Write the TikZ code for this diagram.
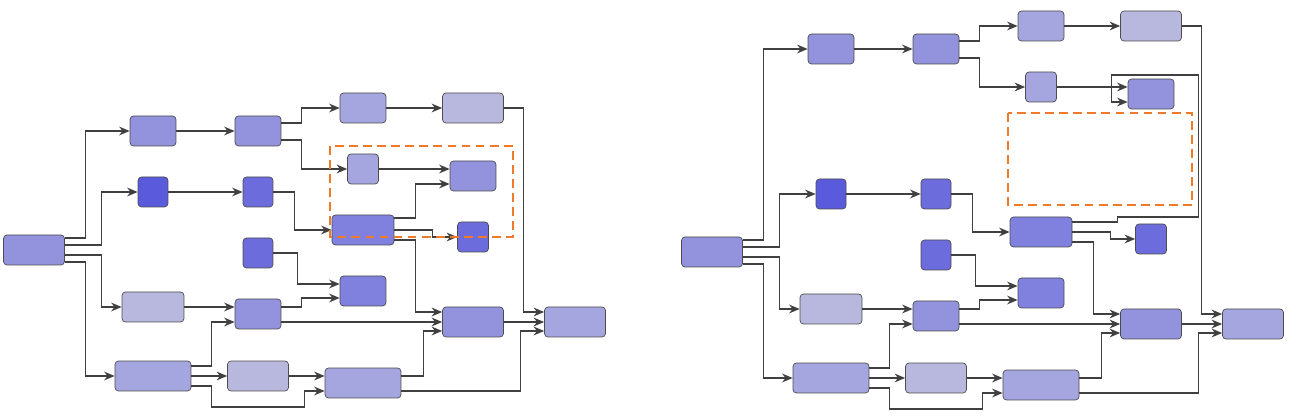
\documentclass[tikz,border=0pt]{standalone}
\usetikzlibrary{arrows.meta,calc}

\definecolor{boxA}{HTML}{9393DD}
\definecolor{boxB}{HTML}{A5A5DF}
\definecolor{boxC}{HTML}{B8B8DE}
\definecolor{boxD}{HTML}{5A5ADD}
\definecolor{boxE}{HTML}{6C6CDD}
\definecolor{boxF}{HTML}{8080DF}
\definecolor{frameorange}{HTML}{F07A2A}

\tikzset{
  box/.style={draw=black!70, rounded corners=2pt, minimum height=0.6cm, inner sep=0pt},
  link/.style={draw=black!75, line width=0.7pt, -{Stealth[length=6pt,width=5pt]}},
  frame/.style={draw=frameorange, line width=1.2pt, dash pattern=on 5pt off 3pt}
}

% one flow graph; #1 = y of the upper row
\newcommand\flowgraph[1]{
\node[box, fill=boxA, minimum width=1.22cm] (A)  at (34,250) {};
\node[box, fill=boxA, minimum width=0.92cm] (B1) at (153,#1) {};
\node[box, fill=boxA, minimum width=0.92cm] (B2) at (258,#1) {};
\node[box, fill=boxB, minimum width=0.92cm] (B3) at (363,#1-23) {};
\node[box, fill=boxC, minimum width=1.22cm] (B4) at (473,#1-23) {};
\node[box, fill=boxB, minimum width=0.62cm] (C1) at (363,#1+38) {};
\node[box, fill=boxA, minimum width=0.92cm] (C2) at (473,#1+45) {};
\node[box, fill=boxD, minimum width=0.6cm]  (D1) at (153,192) {};
\node[box, fill=boxE, minimum width=0.6cm]  (D2) at (258,192) {};
\node[box, fill=boxF, minimum width=1.24cm] (D3) at (363,230) {};
\node[box, fill=boxE, minimum width=0.62cm] (D4) at (473,237) {};
\node[box, fill=boxE, minimum width=0.6cm]  (E1) at (258,253) {};
\node[box, fill=boxF, minimum width=0.92cm] (E2) at (363,291) {};
\node[box, fill=boxC, minimum width=1.24cm] (F1) at (153,307) {};
\node[box, fill=boxA, minimum width=0.92cm] (F2) at (258,314) {};
\node[box, fill=boxA, minimum width=1.22cm] (G)  at (473,322) {};
\node[box, fill=boxB, minimum width=1.22cm] (H)  at (575,322) {};
\node[box, fill=boxB, minimum width=1.52cm] (I1) at (153,376) {};
\node[box, fill=boxC, minimum width=1.22cm] (I2) at (258,376) {};
\node[box, fill=boxB, minimum width=1.52cm] (I3) at (363,383) {};

\draw[link] ($(A.east)+(0,-12)$) -- ++(21,0) |- (B1);
\draw[link] ($(A.east)+(0,-5)$) -- ++(37,0) |- (D1);
\draw[link] ($(A.east)+(0,5)$) -- ++(37,0) |- (F1);
\draw[link] ($(A.east)+(0,12)$) -- ++(21,0) |- (I1);
\draw[link] (B1) -- (B2);
\draw[link] ($(B2.east)+(0,-8)$) -- ++(20,0) |- (B3);
\draw[link] ($(B2.east)+(0,9)$) -- ++(20,0) |- (C1);
\draw[link] (B3) -- (B4);
\draw[link] (B4.east) -- ++(20,0) |- ($(H.west)+(0,-10)$);
\draw[link] (C1.east) -- ($(C2.west)+(0,-7)$);
\draw[link] (D1) -- (D2);
\draw[link] (D2.east) -- ++(21,0) |- (D3);
\draw[link] (D3.east) -- ++(38,0) |- (D4);
\draw[link] ($(D3.east)+(0,10)$) -- ++(21,0) |- ($(G.west)+(0,-10)$);
\draw[link] (E1.east) -- ++(24,0) |- ($(E2.west)+(0,-7)$);
\draw[link] (F1.east) -- ($(F2.west)+(0,-7)$);
\draw[link] ($(F2.east)+(0,-7)$) -- ++(20,0) |- ($(E2.west)+(0,7)$);
\draw[link] ($(F2.east)+(0,8)$) -- (G.west);
\draw[link] (G) -- (H);
\draw[link] ($(I1.east)+(0,-10)$) -- ++(20,0) |- ($(F2.west)+(0,8)$);
\draw[link] (I1) -- (I2);
\draw[link] ($(I1.east)+(0,10)$) -- ++(20,0) -- ++(0,21) -- ++(93,0) |- ($(I3.west)+(0,8)$);
\draw[link] (I2.east) -- ($(I3.west)+(0,-7)$);
\draw[link] ($(I3.east)+(0,-7)$) -- ++(22,0) |- ($(G.west)+(0,9)$);
\draw[link] ($(I3.east)+(0,8)$) -- ++(119,0) |- ($(H.west)+(0,9)$);
}

\begin{document}
\begin{tikzpicture}[x=0.02cm, y=-0.02cm]
\useasboundingbox (0,0) rectangle (1296,418);

% left graph
\begin{scope}[name prefix=L-]
\flowgraph{131}
\draw[link] ($(D3.east)+(0,-12)$) -- ++(21,0) |- ($(C2.west)+(0,8)$);
\end{scope}
\draw[frame] (330,146) rectangle (513,237);

% right graph
\begin{scope}[shift={(678,2)}, name prefix=R-]
\flowgraph{47}
\draw[link] ($(D3.east)+(0,-10)$) -- ++(45,0) -- ++(0,-5) -- ++(81,0) -- ++(0,-142) -- ++(-87,0) |- ($(C2.west)+(0,8)$);
\end{scope}
\draw[frame] (1008,113) rectangle (1192,205);

\end{tikzpicture}
\end{document}
